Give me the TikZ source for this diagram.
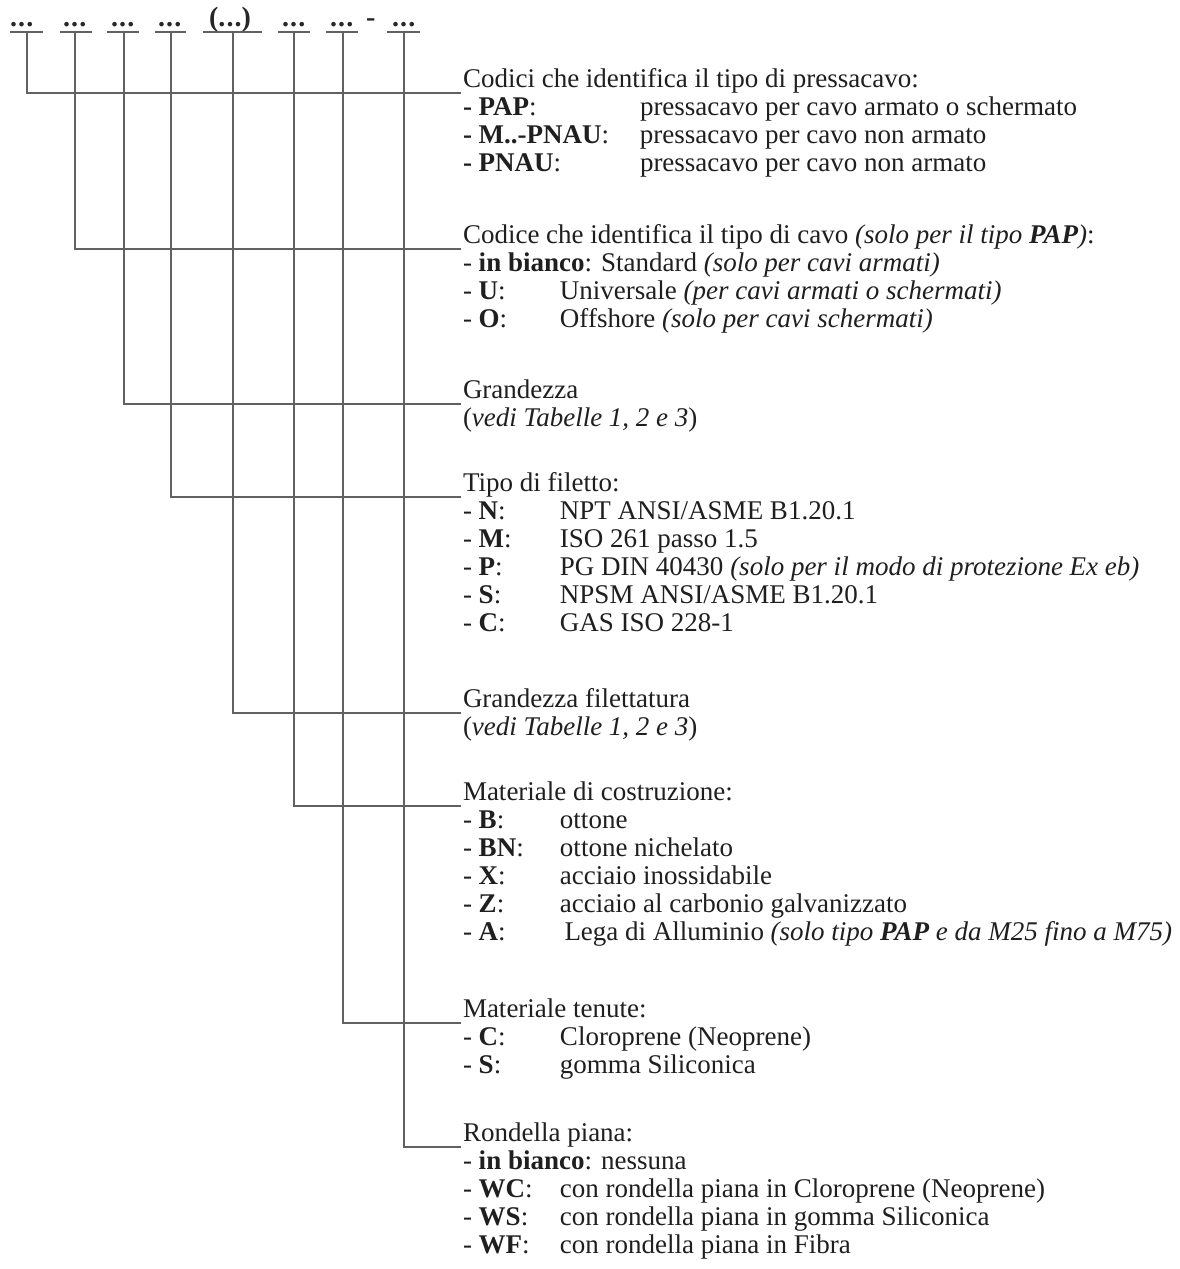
\documentclass[tikz,border=0pt]{standalone}
\usepackage{fontspec}
\setmainfont{Liberation Serif}
\newcommand{\dd}{.\hspace{1.2pt}.\hspace{1.2pt}.}
\begin{document}
\begin{tikzpicture}[x=1pt,y=-1pt,
  txt/.style={anchor=base west,inner sep=0pt,outer sep=0pt,text=black!88,font=\fontsize{27}{30}\selectfont},
  hdr/.style={anchor=base west,inner sep=0pt,outer sep=0pt,text=black!85,font=\fontsize{28}{30}\selectfont\bfseries},
  conn/.style={draw=black!62,line width=1.3pt},
  uline/.style={draw=black!62,line width=1.6pt}]
\useasboundingbox (0,0) rectangle (1180,1269);
\fill[white] (0,0) rectangle (1180,1269);
% header codes
\node[hdr] (d1) at (10,26) {\dd};
\node[hdr] (d2) at (63,26) {\dd};
\node[hdr] (d3) at (111,26) {\dd};
\node[hdr] (d4) at (158,26) {\dd};
\node[hdr] (d5) at (209,26) {(\dd)};
\node[hdr] (d6) at (282,26) {\dd};
\node[hdr] (d7) at (330,26) {\dd};
\node[hdr] (dash) at (366,26) {-};
\node[hdr] (d8) at (392,26) {\dd};
% underline end points
\coordinate (u1a) at (10,32);  \coordinate (u1b) at (43,32);
\coordinate (u2a) at (60,32);  \coordinate (u2b) at (92,32);
\coordinate (u3a) at (107,32); \coordinate (u3b) at (139,32);
\coordinate (u4a) at (155,32); \coordinate (u4b) at (186,32);
\coordinate (u5a) at (203,32); \coordinate (u5b) at (262,32);
\coordinate (u6a) at (278,32); \coordinate (u6b) at (310,32);
\coordinate (u7a) at (326,32); \coordinate (u7b) at (358,32);
\coordinate (u8a) at (387,32); \coordinate (u8b) at (420,32);
\foreach \i in {1,...,8} {\draw[uline] (u\i a) -- (u\i b);}
% connector start points
\coordinate (v1) at (27,32);
\coordinate (v2) at (75,32);
\coordinate (v3) at (124,32);
\coordinate (v4) at (171,32);
\coordinate (v5) at (233,32);
\coordinate (v6) at (294,32);
\coordinate (v7) at (343,32);
\coordinate (v8) at (404,32);
% connector ends
\coordinate (c1) at (461,93);
\coordinate (c2) at (461,249);
\coordinate (c3) at (461,404);
\coordinate (c4) at (461,497);
\coordinate (c5) at (461,713);
\coordinate (c6) at (461,806);
\coordinate (c7) at (461,1023);
\coordinate (c8) at (461,1147);
\foreach \i in {1,...,8} {\draw[conn] (v\i) |- (c\i);}
% tab widths
\def\tA{\makebox[177pt][l]}
\def\tB{\makebox[97pt][l]}
% section 1
\node[txt] (s1h) at (463,87) {Codici che identifica il tipo di pressacavo:};
\node[txt] (s1a) at (463,115) {\tA{\textbf{- PAP}:}pressacavo per cavo armato o schermato};
\node[txt] (s1b) at (463,143) {\tA{\textbf{- M..-PNAU}:}pressacavo per cavo non armato};
\node[txt] (s1c) at (463,171) {\tA{\textbf{- PNAU}:}pressacavo per cavo non armato};
% section 2
\node[txt] (s2h) at (463,243) {Codice che identifica il tipo di cavo \textit{(solo per il tipo \textbf{PAP})}:};
\node[txt] (s2a) at (463,271) {- \textbf{in bianco}: Standard \textit{(solo per cavi armati)}};
\node[txt] (s2b) at (463,299) {\tB{- \textbf{U}:}Universale \textit{(per cavi armati o schermati)}};
\node[txt] (s2c) at (463,327) {\tB{- \textbf{O}:}Offshore \textit{(solo per cavi schermati)}};
% section 3
\node[txt] (s3h) at (463,398) {Grandezza};
\node[txt] (s3a) at (463,426) {(\textit{vedi Tabelle 1, 2 e 3})};
% section 4
\node[txt] (s4h) at (463,491) {Tipo di filetto:};
\node[txt] (s4a) at (463,519) {\tB{- \textbf{N}:}NPT ANSI/ASME B1.20.1};
\node[txt] (s4b) at (463,547) {\tB{- \textbf{M}:}ISO 261 passo 1.5};
\node[txt] (s4c) at (463,575) {\tB{- \textbf{P}:}PG DIN 40430 \textit{(solo per il modo di protezione Ex eb)}};
\node[txt] (s4d) at (463,603) {\tB{- \textbf{S}:}NPSM ANSI/ASME B1.20.1};
\node[txt] (s4e) at (463,631) {\tB{- \textbf{C}:}GAS ISO 228-1};
% section 5
\node[txt] (s5h) at (463,707) {Grandezza filettatura};
\node[txt] (s5a) at (463,735) {(\textit{vedi Tabelle 1, 2 e 3})};
% section 6
\node[txt] (s6h) at (463,800) {Materiale di costruzione:};
\node[txt] (s6a) at (463,828) {\tB{- \textbf{B}:}ottone};
\node[txt] (s6b) at (463,856) {\tB{- \textbf{BN}:}ottone nichelato};
\node[txt] (s6c) at (463,884) {\tB{- \textbf{X}:}acciaio inossidabile};
\node[txt] (s6d) at (463,912) {\tB{- \textbf{Z}:}acciaio al carbonio galvanizzato};
\node[txt] (s6e) at (463,940) {\tB{- \textbf{A}:}\,Lega di Alluminio \textit{(solo tipo \textbf{PAP} e da M25 fino a M75)}};
% section 7
\node[txt] (s7h) at (463,1017) {Materiale tenute:};
\node[txt] (s7a) at (463,1045) {\tB{- \textbf{C}:}Cloroprene (Neoprene)};
\node[txt] (s7b) at (463,1073) {\tB{- \textbf{S}:}gomma Siliconica};
% section 8
\node[txt] (s8h) at (463,1141) {Rondella piana:};
\node[txt] (s8a) at (463,1169) {- \textbf{in bianco}: nessuna};
\node[txt] (s8b) at (463,1197) {\tB{- \textbf{WC}:}con rondella piana in Cloroprene (Neoprene)};
\node[txt] (s8c) at (463,1225) {\tB{- \textbf{WS}:}con rondella piana in gomma Siliconica};
\node[txt] (s8d) at (463,1253) {\tB{- \textbf{WF}:}con rondella piana in Fibra};
\end{tikzpicture}
\end{document}
